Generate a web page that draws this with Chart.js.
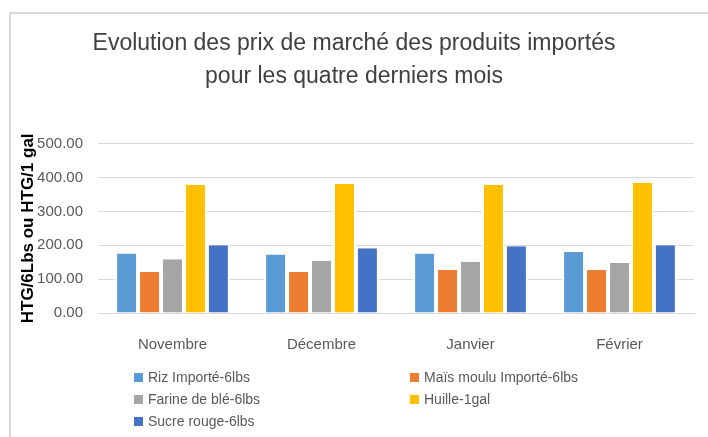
<!DOCTYPE html>
<html>

<head>
    <meta charset="utf-8">
    <style>
        body {
            margin: 0;
            background: #fff;
        }

        .frame {
            position: absolute;
            left: 0;
            top: 0;
            width: 708px;
            height: 437px;
            overflow: hidden;
        }

        .border {
            position: absolute;
            left: 9px;
            top: 12px;
            width: 720px;
            height: 440px;
            border-left: 2px solid #d9d9d9;
            border-top: 2px solid #d9d9d9;
        }

        canvas {
            position: absolute;
            left: 0;
            top: 0;
        }

        .legend {
            position: absolute;
            left: 134px;
            top: 366px;
            width: 560px;
            font-family: "Liberation Sans", Arial, sans-serif;
            font-size: 14px;
            color: #595959;
        }

        .legend div {
            display: inline-block;
            width: 276px;
            height: 22px;
            line-height: 22px;
            white-space: nowrap;
        }

        .legend span {
            display: inline-block;
            width: 9px;
            height: 9px;
            margin-right: 5px;
            vertical-align: 0px;
        }
    </style>
    <script src="https://cdn.jsdelivr.net/npm/chart.js"></script>
</head>

<body>
    <div class="frame">
        <div class="border"></div>
        <canvas id="myChart" width="708" height="437"></canvas>
        <div class="legend" id="legend"></div>
    </div>

    <script>
        const months = ['Novembre', 'Décembre', 'Janvier', 'Février'];
        const riz = [176, 173, 176, 180];
        const mais = [121, 121, 127, 127];
        const farine = [159, 154, 151, 148];
        const huile = [379, 382, 379, 385];
        const sucre = [200, 191, 197, 200];
        const seriesNames = ['Riz Importé-6lbs', 'Maïs moulu Importé-6lbs', 'Farine de blé-6lbs', 'Huille-1gal', 'Sucre rouge-6lbs'];
        const seriesColors = ['#5B9BD5', '#ED7D31', '#A5A5A5', '#FFC000', '#4472C4'];
        const yTicks = [0, 100, 200, 300, 400, 500];

        const allValues = [riz, mais, farine, huile, sucre];
        const datasets = allValues.map((vals, i) => {
            return {
                label: seriesNames[i],
                data: vals,
                backgroundColor: seriesColors[i],
                borderColor: '#ffffff',
                borderWidth: { left: 2, right: 2, top: 0, bottom: 0 },
                borderSkipped: false
            };
        });

        const font = "'Liberation Sans', Arial, sans-serif";

        const config = {
            type: 'bar',
            data: { labels: months, datasets: datasets },
            options: {
                responsive: false,
                animation: false,
                layout: { padding: { left: 14, right: 14, top: 0, bottom: 60 } },
                categoryPercentage: 0.77,
                barPercentage: 1,
                plugins: {
                    legend: { display: false },
                    tooltip: { enabled: false },
                    title: {
                        display: true,
                        text: ['Evolution des prix de marché des produits importés', 'pour les quatre derniers mois'],
                        color: '#404040',
                        font: { family: font, size: 23, weight: 'normal', lineHeight: 1.45 },
                        padding: { top: 27, bottom: 50 }
                    }
                },
                scales: {
                    x: {
                        grid: { display: false, drawTicks: false },
                        border: { color: '#d9d9d9', width: 1 },
                        ticks: {
                            color: '#595959',
                            padding: 23,
                            font: { family: font, size: 15 }
                        }
                    },
                    y: {
                        min: 0,
                        max: 500,
                        afterFit: function (scale) { scale.width = 84; },
                        afterBuildTicks: function (scale) {
                            scale.ticks = yTicks.map(v => ({ value: v }));
                        },
                        grid: { color: '#d9d9d9', lineWidth: 1, drawTicks: false },
                        border: { display: false },
                        title: {
                            display: true,
                            text: 'HTG/6Lbs ou HTG/1 gal',
                            color: '#000',
                            font: { family: font, size: 17, weight: 'bold' },
                            padding: { top: 4, bottom: 0 }
                        },
                        ticks: {
                            color: '#595959',
                            padding: 15,
                            font: { family: font, size: 15 },
                            callback: function (v) { return Number(v).toFixed(2); }
                        }
                    }
                }
            }
        };

        const chart = new Chart(document.getElementById('myChart'), config);

        // legend in two columns like the original
        const legend = document.getElementById('legend');
        seriesNames.forEach((name, i) => {
            const item = document.createElement('div');
            const box = document.createElement('span');
            box.style.backgroundColor = seriesColors[i];
            item.appendChild(box);
            item.appendChild(document.createTextNode(name));
            legend.appendChild(item);
        });
    </script>
</body>

</html>
